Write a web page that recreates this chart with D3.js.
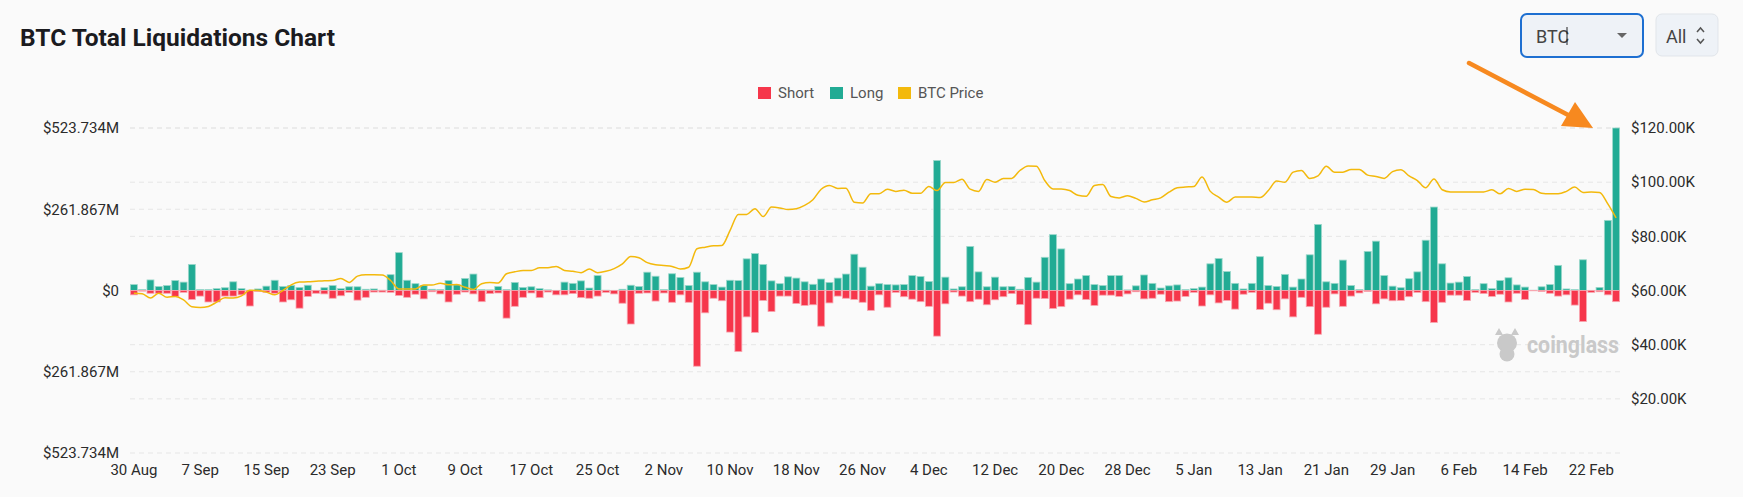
<!DOCTYPE html>
<html lang="en">
<head>
<meta charset="UTF-8"/>
<title>BTC Total Liquidations Chart</title>
<script src="https://d3js.org/d3.v7.min.js"></script>
<style>
  body { margin: 0; background: #fafafa; }
  svg { display: block; }
  text { font-family: Roboto, "Noto Sans", sans-serif; }
</style>
</head>
<body>
<script>
// --- data ($M for liquidations, $K for price) ---
var startDay = new Date(2024, 7, 30);   // 30 Aug 2024
var endDay = new Date(2025, 1, 26);     // exclusive, last bar 25 Feb 2025

var longValues = [
  19, 3, 34, 13, 16, 32, 27, 84, 3, 3,
  6, 9, 28, 6, 1, 5, 14, 33, 13, 16,
  10, 17, 0.5, 9, 16, 6, 12, 12, 4, 5,
  1, 51, 122, 33, 22, 16, 4, 3, 32, 18,
  39, 53, 3, 2, 13, 3, 26, 10, 12, 6,
  2, 0.5, 27, 23, 31, 8, 48, 1, 0.5, 4,
  17, 13, 59, 46, 3, 54, 42, 16, 59, 28,
  19, 11, 33, 32, 102, 119, 84, 31, 22, 44,
  40, 28, 20, 37, 26, 40, 53, 117, 75, 14,
  22, 19, 18, 19, 48, 45, 29, 419, 43, 5,
  12, 142, 60, 12, 43, 12, 13, 4, 42, 27,
  107, 180, 134, 22, 37, 48, 19, 16, 48, 48,
  2, 15, 50, 23, 8, 15, 18, 3, 6, 11,
  86, 103, 61, 23, 5, 23, 109, 16, 13, 52,
  11, 37, 115, 213, 28, 23, 98, 16, 3, 126,
  159, 48, 14, 9, 38, 60, 162, 269, 86, 24,
  27, 45, 3, 22, 6, 32, 41, 18, 11, 1,
  12, 19, 81, 5, 3, 99, 0.5, 10, 226, 523.734
];

var shortValues = [
  14, 2, 9, 9, 9, 19, 6, 29, 18, 37,
  37, 18, 18, 14, 50, 3, 6, 9, 37, 30,
  57, 19, 9, 11, 25, 17, 6, 31, 22, 5,
  5, 6, 16, 22, 12, 27, 4, 11, 37, 12,
  5, 11, 36, 10, 8, 89, 51, 22, 8, 23,
  5, 14, 14, 10, 23, 25, 18, 6, 11, 41,
  108, 9, 8, 34, 8, 38, 14, 38, 244, 72,
  25, 33, 134, 197, 85, 135, 32, 68, 18, 18,
  42, 48, 46, 115, 40, 18, 25, 29, 38, 64,
  14, 54, 6, 20, 28, 36, 51, 147, 43, 5,
  18, 36, 28, 46, 30, 20, 10, 45, 110, 25,
  26, 58, 52, 28, 14, 29, 48, 15, 15, 19,
  11, 4, 27, 25, 12, 36, 34, 19, 6, 50,
  14, 40, 32, 60, 12, 6, 61, 41, 62, 27,
  85, 22, 52, 141, 54, 11, 51, 18, 8, 3,
  43, 27, 33, 32, 20, 6, 36, 103, 38, 15,
  15, 32, 6, 10, 19, 12, 37, 9, 29, 1,
  3, 9, 18, 14, 47, 100, 6, 4, 14, 36
];

var priceValues = [
  59, 58.8, 57.2, 59, 57.5, 57.8, 56.5, 54, 53.7, 54.1,
  55.7, 57.3, 57.2, 58, 60.1, 60, 59.4, 58.4, 60, 62.1,
  63.1, 63.2, 63.4, 63.6, 63.7, 64.4, 63, 65.3, 65.8, 65.8,
  65.7, 63.7, 60.6, 60.6, 60.6, 62, 62, 62.7, 62.1, 62.2,
  61.2, 60.4, 62.5, 63, 62.8, 66.2, 66.9, 67.4, 67.4, 68.4,
  68.4, 68.9, 67.4, 67.1, 66.6, 67.9, 66.6, 67.1, 68.1, 69.8,
  72.6, 72.1, 70.3, 69.5, 69.2, 68.9, 67.9, 68.6, 75.4, 76,
  76.5, 76.6, 82.2, 88.1, 88.1, 90.2, 87.3, 90.8, 90.5, 89.9,
  90.2, 91.4, 93.5, 97.4, 98.8, 97.7, 97.8, 92.6, 92.3, 95.7,
  95.7, 97.4, 96.6, 97, 95.9, 95.9, 98.4, 96.9, 99.9, 99.9,
  101.1, 97.4, 96.6, 101, 100, 101.4, 101.4, 104.3, 106, 105.9,
  100.6, 97.5, 97.5, 96.9, 95.2, 94.8, 98.8, 99.1, 94.7, 94.2,
  95, 94, 92.7, 93.5, 94.2, 96.3, 97.9, 98.2, 98.4, 101.9,
  96.6, 94.5, 92.6, 94.5, 94.5, 94.5, 94.3, 96.9, 100.4, 100,
  103.7, 104.3, 101.4, 102.3, 105.9, 103.7, 103.7, 104.7, 104.7, 102.6,
  102.1, 101.4, 103.9, 104.6, 102.3, 100.6, 97.9, 101.2, 97.2, 96.4,
  96.4, 96.4, 96.4, 96.4, 97.2, 95.7, 97.7, 96.6, 97.4, 97.3,
  95.9, 95.7, 95.7, 96.6, 98.2, 96.2, 96.4, 96.2, 92, 86.8
];

var xTickLabels = ["30 Aug", "7 Sep", "15 Sep", "23 Sep", "1 Oct", "9 Oct", "17 Oct",
  "25 Oct", "2 Nov", "10 Nov", "18 Nov", "26 Nov", "4 Dec", "12 Dec", "20 Dec",
  "28 Dec", "5 Jan", "13 Jan", "21 Jan", "29 Jan", "6 Feb", "14 Feb", "22 Feb"];
var leftTicks = [-523.734, -261.867, 0, 261.867, 523.734];
var rightTicks = [20, 40, 60, 80, 100, 120];
var legendItems = [["Short", "#f6364b"], ["Long", "#21ab94"], ["BTC Price", "#f3b90c"]];

// --- layout ---
var w = 1743, h = 497;
var plotLeft = 130, plotRight = 1620, plotTop = 128, plotBottom = 453;
var longColor = "#21ab94", shortColor = "#f6364b", priceColor = "#f3b90c";

var dates = d3.timeDay.range(startDay, endDay);

var svg = d3.select("body").append("svg").attr("width", w).attr("height", h);

var xScale = d3.scaleBand().domain(dates).range([plotLeft, plotRight]).paddingInner(0.16).paddingOuter(0.05);
var yLeft = d3.scaleLinear().domain([-523.734, 523.734]).range([plotBottom, plotTop]);
var yRight = d3.scaleLinear().domain([0, 120]).range([plotBottom, plotTop]);

// grid (both axes split lines)
var gridY = leftTicks.map(yLeft).concat(rightTicks.map(yRight));
svg.append("g").selectAll("line").data(gridY).enter().append("line")
   .attr("x1", plotLeft).attr("x2", plotRight)
   .attr("y1", function(d) { return d; }).attr("y2", function(d) { return d; })
   .attr("stroke", "#e6e6e6").attr("stroke-dasharray", "5,4");

// title
svg.append("text").attr("x", 20).attr("y", 46)
   .attr("font-size", "24.5px").attr("font-weight", "bold").attr("fill", "#1b1b1f")
   .text("BTC Total Liquidations Chart");

// legend
var legend = svg.append("g").attr("transform", "translate(758,87)");
var lx = [0, 72, 140];
legendItems.forEach(function(d, i) {
    legend.append("rect").attr("x", lx[i]).attr("y", 0).attr("width", 13).attr("height", 12).attr("fill", d[1]);
    legend.append("text").attr("x", lx[i] + 20).attr("y", 11).attr("font-size", "15px")
          .attr("fill", "#555").text(d[0]);
});

// bars
svg.append("g").selectAll("rect").data(dates).enter().append("rect")
   .attr("x", function(d) { return xScale(d); })
   .attr("width", xScale.bandwidth())
   .attr("y", function(d, i) { return yLeft(longValues[i]); })
   .attr("height", function(d, i) { return yLeft(0) - yLeft(longValues[i]); })
   .attr("fill", longColor).attr("stroke", "#9bd8cb").attr("stroke-width", 0.8);

svg.append("g").selectAll("rect").data(dates).enter().append("rect")
   .attr("x", function(d) { return xScale(d); })
   .attr("width", xScale.bandwidth())
   .attr("y", yLeft(0))
   .attr("height", function(d, i) { return yLeft(-shortValues[i]) - yLeft(0); })
   .attr("fill", shortColor).attr("stroke", "#f8a6b0").attr("stroke-width", 0.8);

// price line
var line = d3.line()
    .x(function(d, i) { return xScale(dates[i]) + xScale.bandwidth() / 2; })
    .y(function(d) { return yRight(d); })
    .curve(d3.curveMonotoneX);
svg.append("path").datum(priceValues).attr("d", line)
   .attr("fill", "none").attr("stroke", priceColor).attr("stroke-width", 1.5);

// axes
var xAxis = d3.axisBottom(xScale)
    .tickValues(dates.filter(function(d, i) { return i % 8 === 0; }))
    .tickFormat(function(d, i) { return xTickLabels[i]; })
    .tickSize(0).tickPadding(11);
var gx = svg.append("g").attr("transform", "translate(0," + plotBottom + ")").call(xAxis);

var leftAxis = d3.axisLeft(yLeft).tickValues(leftTicks)
    .tickFormat(function(d) { return d === 0 ? "$0" : "$" + d3.format(".3f")(Math.abs(d)) + "M"; })
    .tickSize(0).tickPadding(11);
var gl = svg.append("g").attr("transform", "translate(" + plotLeft + ",0)").call(leftAxis);

var rightAxis = d3.axisRight(yRight).tickValues(rightTicks)
    .tickFormat(function(d) { return "$" + d3.format(".2f")(d) + "K"; })
    .tickSize(0).tickPadding(11);
var gr = svg.append("g").attr("transform", "translate(" + plotRight + ",0)").call(rightAxis);

[gx, gl, gr].forEach(function(g) {
    g.select(".domain").remove();
    g.selectAll("text").attr("font-size", "15px").attr("fill", "#2b2b2b")
     .attr("font-family", "Roboto, sans-serif");
});

// watermark
var wm = svg.append("g").attr("fill", "#c9c9c9");
wm.append("ellipse").attr("cx", 1507).attr("cy", 343).attr("rx", 10).attr("ry", 9.5);
wm.append("ellipse").attr("cx", 1507).attr("cy", 354).attr("rx", 7.5).attr("ry", 7.5);
wm.append("path").attr("d", "M1495,335 L1499,328 L1503,335 Z M1519,335 L1515,328 L1511,335 Z");
wm.append("text").attr("x", 1527).attr("y", 353).attr("font-size", "23px").attr("font-weight", "bold")
  .attr("textLength", 92).attr("lengthAdjust", "spacingAndGlyphs").text("coinglass");

// arrow annotation
svg.append("line").attr("x1", 1469).attr("y1", 63).attr("x2", 1572).attr("y2", 117)
   .attr("stroke", "#f7891f").attr("stroke-width", 4.5).attr("stroke-linecap", "round");
svg.append("path").attr("d", "M1593,128 L1561,126 L1575,102 Z").attr("fill", "#f7891f");

// selectors
var sel = svg.append("g");
sel.append("rect").attr("x", 1521).attr("y", 14).attr("width", 122).attr("height", 43).attr("rx", 6)
   .attr("fill", "#eef2f7").attr("stroke", "#1d6fd1").attr("stroke-width", 2);
sel.append("text").attr("x", 1536).attr("y", 43).attr("font-size", "18px").attr("fill", "#444").text("BTC");
sel.append("line").attr("x1", 1567).attr("x2", 1567).attr("y1", 27).attr("y2", 45).attr("stroke", "#222");
sel.append("path").attr("d", "M1617,33 L1627,33 L1622,38 Z").attr("fill", "#666");
sel.append("rect").attr("x", 1656).attr("y", 14).attr("width", 62).attr("height", 42).attr("rx", 6)
   .attr("fill", "#eef2f7").attr("stroke", "#e1e5ea");
sel.append("text").attr("x", 1666).attr("y", 43).attr("font-size", "18px").attr("fill", "#444").text("All");
sel.append("path").attr("d", "M1697,32 L1700.5,28 L1704,32 M1697,39 L1700.5,43 L1704,39")
   .attr("fill", "none").attr("stroke", "#555").attr("stroke-width", 1.5);
</script>
</body>
</html>
